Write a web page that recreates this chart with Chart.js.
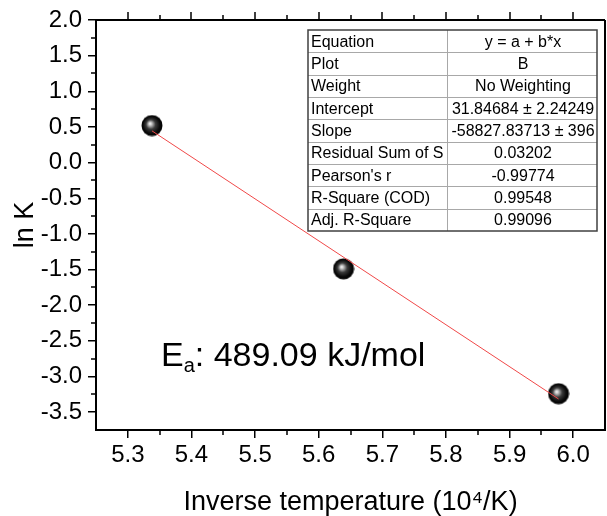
<!DOCTYPE html>
<html>
<head>
<meta charset="utf-8">
<script src="https://cdn.jsdelivr.net/npm/chart.js@4/dist/chart.umd.min.js"></script>
<style>
  html, body { margin: 0; padding: 0; background: #fff; }
  #wrap { width: 607px; height: 516px; }
</style>
</head>
<body>
<div id="wrap"><canvas id="c" width="607" height="516"></canvas></div>
<script>
// ---- data ----
const invTemp = [5.338, 5.639, 5.977];
const lnK = [0.52, -1.49, -3.24];
const fitX = [5.338, 5.977];
const fitY = [0.445, -3.315];
const xTicks = [5.3, 5.4, 5.5, 5.6, 5.7, 5.8, 5.9, 6.0];
const yTicks = [2.0, 1.5, 1.0, 0.5, 0.0, -0.5, -1.0, -1.5, -2.0, -2.5, -3.0, -3.5];
const tableLabels = ["Equation", "Plot", "Weight", "Intercept", "Slope", "Residual Sum of S", "Pearson's r", "R-Square (COD)", "Adj. R-Square"];
const tableValues = ["y = a + b*x", "B", "No Weighting", "31.84684 \u00b1 2.24249", "-58827.83713 \u00b1 396", "0.03202", "-0.99774", "0.99548", "0.99096"];
const eaValue = "489.09";

const FONT = "'Liberation Sans', Arial, Helvetica, sans-serif";

// sphere marker
function makeBall() {
  const c = document.createElement('canvas');
  c.width = 22; c.height = 22;
  const g = c.getContext('2d');
  const grad = g.createRadialGradient(9, 9, 0.3, 11, 11, 11);
  grad.addColorStop(0, '#f4f4f4');
  grad.addColorStop(0.12, '#c8c8c8');
  grad.addColorStop(0.42, '#3a3a3a');
  grad.addColorStop(0.75, '#0a0a0a');
  grad.addColorStop(1, '#000000');
  g.fillStyle = grad;
  g.beginPath();
  g.arc(11, 11, 10.5, 0, Math.PI * 2);
  g.fill();
  return c;
}
const ball = makeBall();

const framePlugin = {
  id: 'frame',
  afterDraw(chart) {
    const ctx = chart.ctx;
    const a = chart.chartArea;
    const xs = chart.scales.x, ys = chart.scales.y;
    ctx.save();
    ctx.strokeStyle = '#000';
    ctx.lineWidth = 2;
    // top & right border
    ctx.beginPath();
    ctx.moveTo(a.left - 1, a.top); ctx.lineTo(a.right, a.top);
    ctx.moveTo(a.right, a.top); ctx.lineTo(a.right, a.bottom + 1);
    ctx.stroke();
    ctx.lineWidth = 1.5;
    ctx.beginPath();
    // x ticks: minor bottom, major+minor top
    for (let i = 0; i < xTicks.length; i++) {
      const px = Math.round(xs.getPixelForValue(xTicks[i]));
      ctx.moveTo(px, a.top); ctx.lineTo(px, a.top - 8);
      if (i < xTicks.length - 1) {
        const mx = Math.round(xs.getPixelForValue((xTicks[i] + xTicks[i + 1]) / 2));
        ctx.moveTo(mx, a.bottom); ctx.lineTo(mx, a.bottom + 5);
        ctx.moveTo(mx, a.top); ctx.lineTo(mx, a.top - 5);
      }
    }
    // y minor ticks
    for (let i = 0; i < yTicks.length - 1; i++) {
      const my = Math.round(ys.getPixelForValue((yTicks[i] + yTicks[i + 1]) / 2));
      ctx.moveTo(a.left, my); ctx.lineTo(a.left - 5, my);
    }
    ctx.stroke();

    // Ea annotation
    ctx.fillStyle = '#000';
    ctx.textBaseline = 'alphabetic';
    ctx.textAlign = 'left';
    let tx = 161, ty = 366;
    ctx.font = '34px ' + FONT;
    ctx.fillText('E', tx, ty);
    tx += ctx.measureText('E').width;
    ctx.font = '20px ' + FONT;
    ctx.fillText('a', tx, ty + 6);
    tx += ctx.measureText('a').width;
    ctx.font = '34px ' + FONT;
    ctx.fillText(': ' + eaValue + ' kJ/mol', tx, ty);

    // table
    const L = 308, R = 597, T = 30, B = 231, D = 447;
    const rh = (B - T) / tableLabels.length;
    ctx.strokeStyle = '#a8a8a8';
    ctx.lineWidth = 1;
    ctx.beginPath();
    for (let i = 1; i < tableLabels.length; i++) {
      const y = Math.round(T + i * rh) + 0.5;
      ctx.moveTo(L, y); ctx.lineTo(R, y);
    }
    ctx.moveTo(D + 0.5, T); ctx.lineTo(D + 0.5, B);
    ctx.stroke();
    ctx.strokeStyle = '#404040';
    ctx.lineWidth = 1.5;
    ctx.strokeRect(L, T, R - L, B - T);
    ctx.font = '16px ' + FONT;
    ctx.textBaseline = 'middle';
    for (let i = 0; i < tableLabels.length; i++) {
      const cy = T + (i + 0.5) * rh + 1;
      ctx.save();
      ctx.beginPath();
      ctx.rect(L, T + i * rh, D - L, rh);
      ctx.clip();
      ctx.textAlign = 'left';
      ctx.fillText(tableLabels[i], L + 3, cy);
      ctx.restore();
      ctx.textAlign = 'center';
      ctx.fillText(tableValues[i], (D + R) / 2 + 1, cy);
    }
    ctx.restore();
  }
};

new Chart(document.getElementById('c'), {
  type: 'scatter',
  data: {
    datasets: [
      {
        label: 'fit',
        data: fitX.map((x, i) => ({ x: x, y: fitY[i] })),
        showLine: true,
        borderColor: '#f04848',
        borderWidth: 1,
        pointRadius: 0,
        order: 0
      },
      {
        label: 'B',
        data: invTemp.map((x, i) => ({ x: x, y: lnK[i] })),
        pointStyle: ball,
        pointRadius: 10,
        order: 1
      }
    ]
  },
  options: {
    responsive: false,
    animation: false,
    layout: { autoPadding: false, padding: { top: 20, right: 2, left: 0, bottom: 0 } },
    plugins: { legend: { display: false }, tooltip: { enabled: false } },
    scales: {
      x: {
        type: 'linear',
        min: 5.25, max: 6.05,
        afterBuildTicks: s => { s.ticks = xTicks.map(v => ({ value: v })); },
        afterFit: s => { s.height = 86; s.paddingLeft = 0; s.paddingRight = 0; },
        ticks: {
          callback: v => Number(v).toFixed(1),
          font: { size: 24, family: FONT },
          color: '#000', padding: 3, maxRotation: 0, autoSkip: false
        },
        grid: { drawOnChartArea: false, tickLength: 8, color: '#000', lineWidth: 1.5 },
        border: { color: '#000', width: 2 },
        title: {
          display: true, text: 'Inverse temperature (10\u2074/K)', color: '#000',
          font: { size: 27, family: FONT, lineHeight: 1 },
          padding: { top: 0, bottom: 0 }
        }
      },
      y: {
        type: 'linear',
        min: -3.75, max: 2.0,
        afterBuildTicks: s => { s.ticks = yTicks.map(v => ({ value: v })); },
        afterFit: s => { s.width = 96; s.paddingTop = 0; s.paddingBottom = 0; },
        ticks: {
          callback: v => Number(v).toFixed(1),
          font: { size: 24, family: FONT },
          color: '#000', padding: 6, autoSkip: false
        },
        grid: { drawOnChartArea: false, tickLength: 8, color: '#000', lineWidth: 1.5 },
        border: { color: '#000', width: 2 },
        title: {
          display: true, text: 'ln K', color: '#000',
          font: { size: 27, family: FONT, lineHeight: 1 },
          padding: { top: 12, bottom: 0 }
        }
      }
    }
  },
  plugins: [framePlugin]
});
</script>
</body>
</html>
